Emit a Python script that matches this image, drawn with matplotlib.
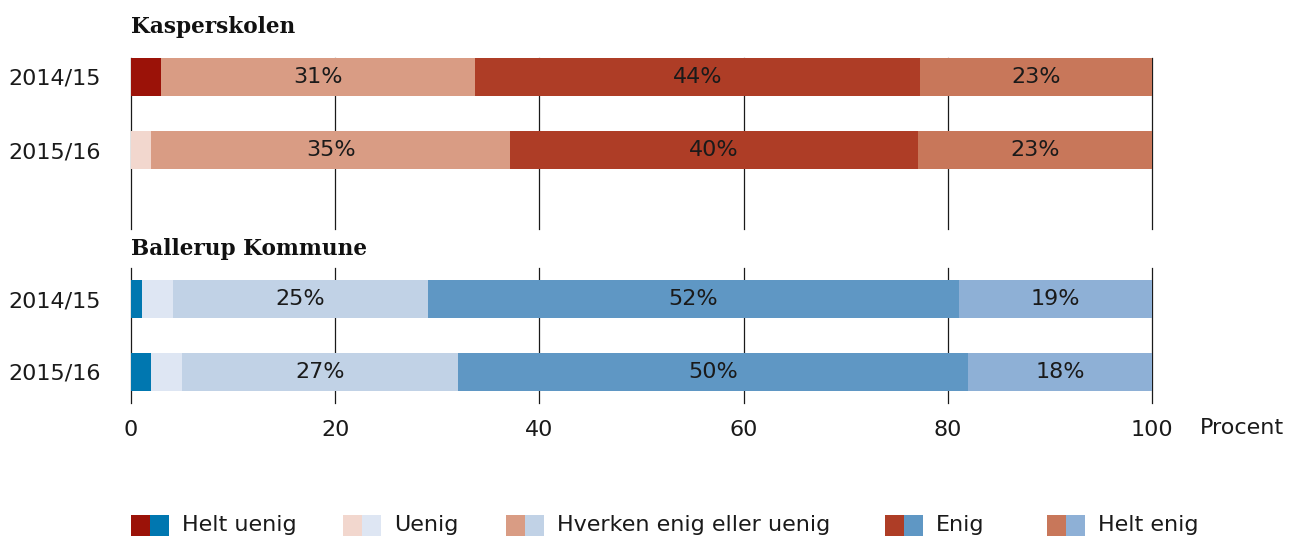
import matplotlib
matplotlib.use('Agg')
import matplotlib.pyplot as plt
from matplotlib.patches import Rectangle

plt.rcParams['font.family'] = ['DejaVu Sans']

# data
years = ['2014/15', '2015/16']
categories = ['Helt uenig', 'Uenig', 'Hverken enig eller uenig', 'Enig', 'Helt enig']

kasper_helt_uenig = [2.9, 0.0]
kasper_uenig = [0.0, 2.0]
kasper_hverken = [30.8, 35.1]
kasper_enig = [43.6, 40.0]
kasper_helt_enig = [22.7, 22.9]

ballerup_helt_uenig = [1.1, 2.0]
ballerup_uenig = [3.0, 3.0]
ballerup_hverken = [25.0, 27.0]
ballerup_enig = [52.0, 50.0]
ballerup_helt_enig = [18.9, 18.0]

red_colors = ['#9b1208', '#f2d7ce', '#d99c84', '#ae3d26', '#c8775a']
blue_colors = ['#0077b0', '#dee6f3', '#c1d2e6', '#5f97c4', '#8eb0d6']

W, H = 1294, 538
fig = plt.figure(figsize=(W / 100, H / 100), dpi=100)

left = 131 / W
width = (1152 - 131) / W
ax1 = fig.add_axes([left, 1 - 229 / H, width, (229 - 58) / H])
ax2 = fig.add_axes([left, 1 - 403 / H, width, (403 - 268) / H])


def draw_group(ax, series, colors, title, title_off, ylim):
    y = list(range(len(years)))
    start = [0.0] * len(years)
    for vals, col in zip(series, colors):
        bars = ax.barh(y, vals, left=start, height=0.52, color=col, zorder=3)
        for b, v in zip(bars, vals):
            if v >= 10:
                ax.text(b.get_x() + b.get_width() / 2, b.get_y() + b.get_height() / 2,
                        f'{v:.0f}%', ha='center', va='center', fontsize=16,
                        color='#1a1a1a', zorder=4)
        start = [s + v for s, v in zip(start, vals)]
    ax.set_xlim(0, 100)
    ax.set_ylim(*ylim)
    ax.set_yticks(y)
    ax.set_yticklabels(years, fontsize=16, color='#1a1a1a')
    ax.set_xticks([0, 20, 40, 60, 80, 100])
    ax.tick_params(axis='both', length=0)
    ax.tick_params(axis='y', pad=22)
    for s in ax.spines.values():
        s.set_visible(False)
    ax.grid(axis='x', color='#1a1a1a', linewidth=0.9, zorder=1)
    for gl in ax.xaxis.get_gridlines():
        gl.set_clip_on(False)
    ax.set_axisbelow(True)
    ax.annotate(title, xy=(0, 1), xycoords='axes fraction', xytext=(0, title_off),
                textcoords='offset points', ha='left', va='center',
                fontsize=15.6, fontweight='heavy', family='DejaVu Serif', color='#111111')


draw_group(ax1, [kasper_helt_uenig, kasper_uenig, kasper_hverken, kasper_enig, kasper_helt_enig],
           red_colors, 'Kasperskolen', 22, (2.08, -0.26))
draw_group(ax2, [ballerup_helt_uenig, ballerup_uenig, ballerup_hverken, ballerup_enig, ballerup_helt_enig],
           blue_colors, 'Ballerup Kommune', 14, (1.425, -0.425))

ax1.set_xticklabels([])
ax2.set_xticklabels(['0', '20', '40', '60', '80', '100'], fontsize=16, color='#1a1a1a')
ax2.tick_params(axis='x', pad=12)
ax2.text(1.047, -25 / 135, 'Procent', transform=ax2.transAxes, ha='left', va='center',
         fontsize=16, color='#1a1a1a')

# legend: paired swatches (red + blue) per category
leg_x = [131, 343, 506, 885, 1047]
sw_w, sw_h = 19, 21
for lx, cat, rc, bc in zip(leg_x, categories, red_colors, blue_colors):
    fig.add_artist(Rectangle((lx / W, 1 - 536 / H), sw_w / W, sw_h / H,
                             transform=fig.transFigure, color=rc, lw=0))
    fig.add_artist(Rectangle(((lx + sw_w) / W, 1 - 536 / H), sw_w / W, sw_h / H,
                             transform=fig.transFigure, color=bc, lw=0))
    fig.text((lx + 2 * sw_w + 13) / W, 1 - 525 / H, cat, ha='left', va='center',
             fontsize=16, color='#1a1a1a')

fig.savefig('out.png', dpi=100)
